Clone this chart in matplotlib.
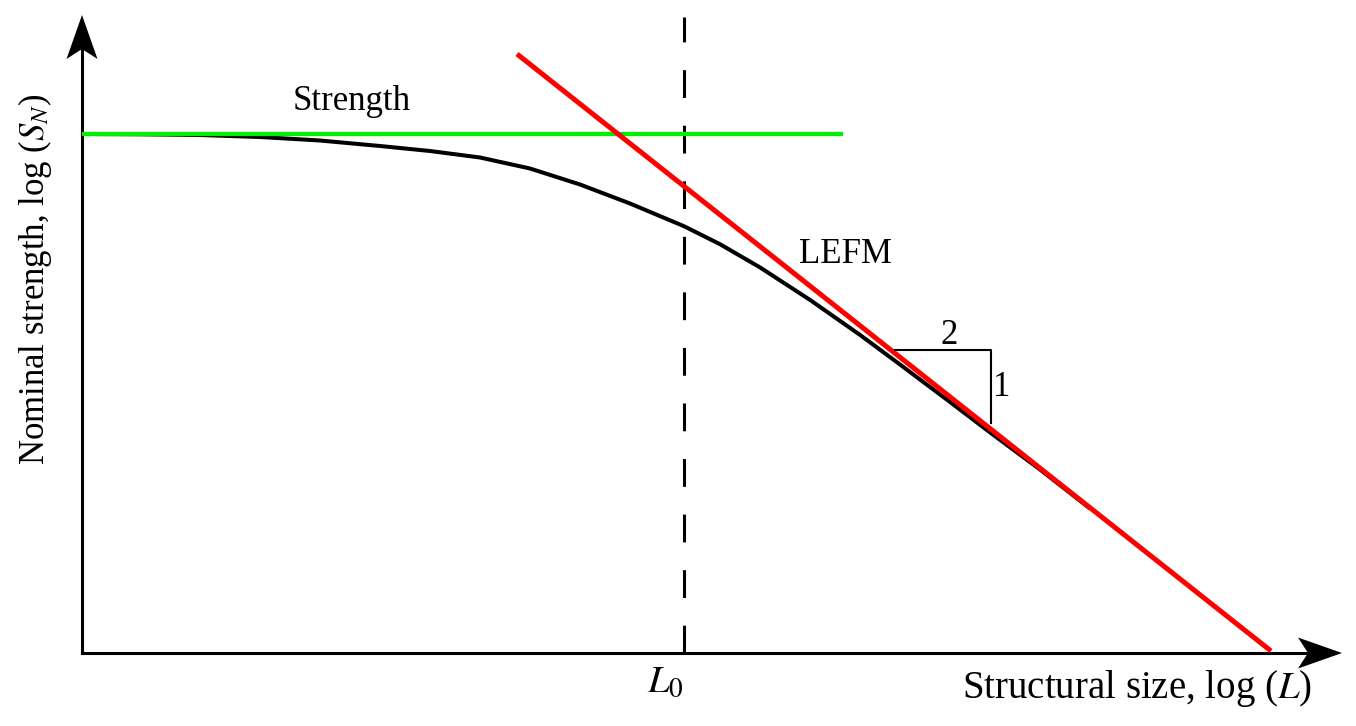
import numpy as np
import matplotlib.pyplot as plt

plt.rcParams['font.family'] = ['Liberation Serif', 'DejaVu Serif']
plt.rcParams['mathtext.fontset'] = 'stix'
plt.rcParams['lines.scale_dashes'] = False

# size effect curve (log L, log S_N in plot units)
curve_x = [0, 0.58, 1.18, 1.78, 2.38, 2.98, 3.48, 3.98, 4.48, 4.98, 5.48,
           6.02, 6.38, 6.78, 7.28, 7.78, 8.18, 8.68, 9.08, 9.58, 10.08]
curve_y = [5.19, 5.187, 5.18, 5.16, 5.125, 5.07, 5.02, 4.955, 4.845, 4.685, 4.495,
           4.268, 4.088, 3.856, 3.531, 3.181, 2.885, 2.51, 2.206, 1.835, 1.445]

# strength criterion (horizontal) and LEFM asymptote (slope -1/2)
strength_x = [0, 7.61]
strength_y = [5.19, 5.19]
lefm_x = [4.35, 11.89]
lefm_y = [5.99, 0.02]

# transitional size L0
L0 = 6.02
L0_top = 6.36

# slope triangle
tri_x = [8.13, 9.09, 9.09]
tri_y = [3.03, 3.03, 2.30]

x_tip = 12.60
y_tip = 6.38


def arrow_head(ax, tip, direction):
    # stealth style head, length 0.44, half width 0.155, notch 0.10
    d = np.array(direction, float)
    n = np.array([-d[1], d[0]])
    t = np.array(tip, float)
    pts = [t, t - 0.44 * d + 0.155 * n, t - 0.34 * d, t - 0.44 * d - 0.155 * n]
    pts = np.array(pts)
    ax.fill(pts[:, 0], pts[:, 1], color='k', lw=0, zorder=5)
    return t - 0.34 * d


fig = plt.figure(figsize=(13.56, 7.26), dpi=100)
ax = fig.add_axes([0, 0, 1, 1])
ax.set_xlim(-0.82, 12.74)
ax.set_ylim(-0.73, 6.53)
ax.axis('off')

# axes with arrows
xe = arrow_head(ax, (x_tip, 0), (1, 0))
ye = arrow_head(ax, (0, y_tip), (0, 1))
ax.plot([0, xe[0]], [0, 0], color='k', lw=2.2, solid_capstyle='projecting')
ax.plot([0, 0], [0, ye[1]], color='k', lw=2.2, solid_capstyle='projecting')

ax.plot([L0, L0], [0, L0_top], color='k', lw=2.2, dashes=(20, 20))
ax.plot(curve_x, curve_y, color='k', lw=2.9, solid_capstyle='butt')
ax.plot(strength_x, strength_y, color='#00ee00', lw=3.1, solid_capstyle='butt')
ax.plot(lefm_x, lefm_y, color='red', lw=3.6, solid_capstyle='butt')
ax.plot(tri_x, tri_y, color='k', lw=1.5)

fs = 25
ax.text(2.70, 5.43, 'Strength', fontsize=fs, ha='center', va='baseline')
ax.text(7.63, 3.90, 'LEFM', fontsize=fs, ha='center', va='baseline')
ax.text(8.67, 3.18, '2', fontsize=fs, ha='center', va='center')
ax.text(9.20, 2.65, '1', fontsize=fs, ha='center', va='center')
ax.text(5.83, -0.29, '$L_0$', fontsize=28, ha='center', va='center')
ax.text(12.30, -0.45, 'Structural size, log ($L$)', fontsize=28, ha='right', va='baseline')
ax.text(-0.47, 3.74, 'Nominal strength, log ($S_N$)', fontsize=fs, ha='center', va='center',
        rotation=90)

fig.savefig('out.png', dpi=100)
